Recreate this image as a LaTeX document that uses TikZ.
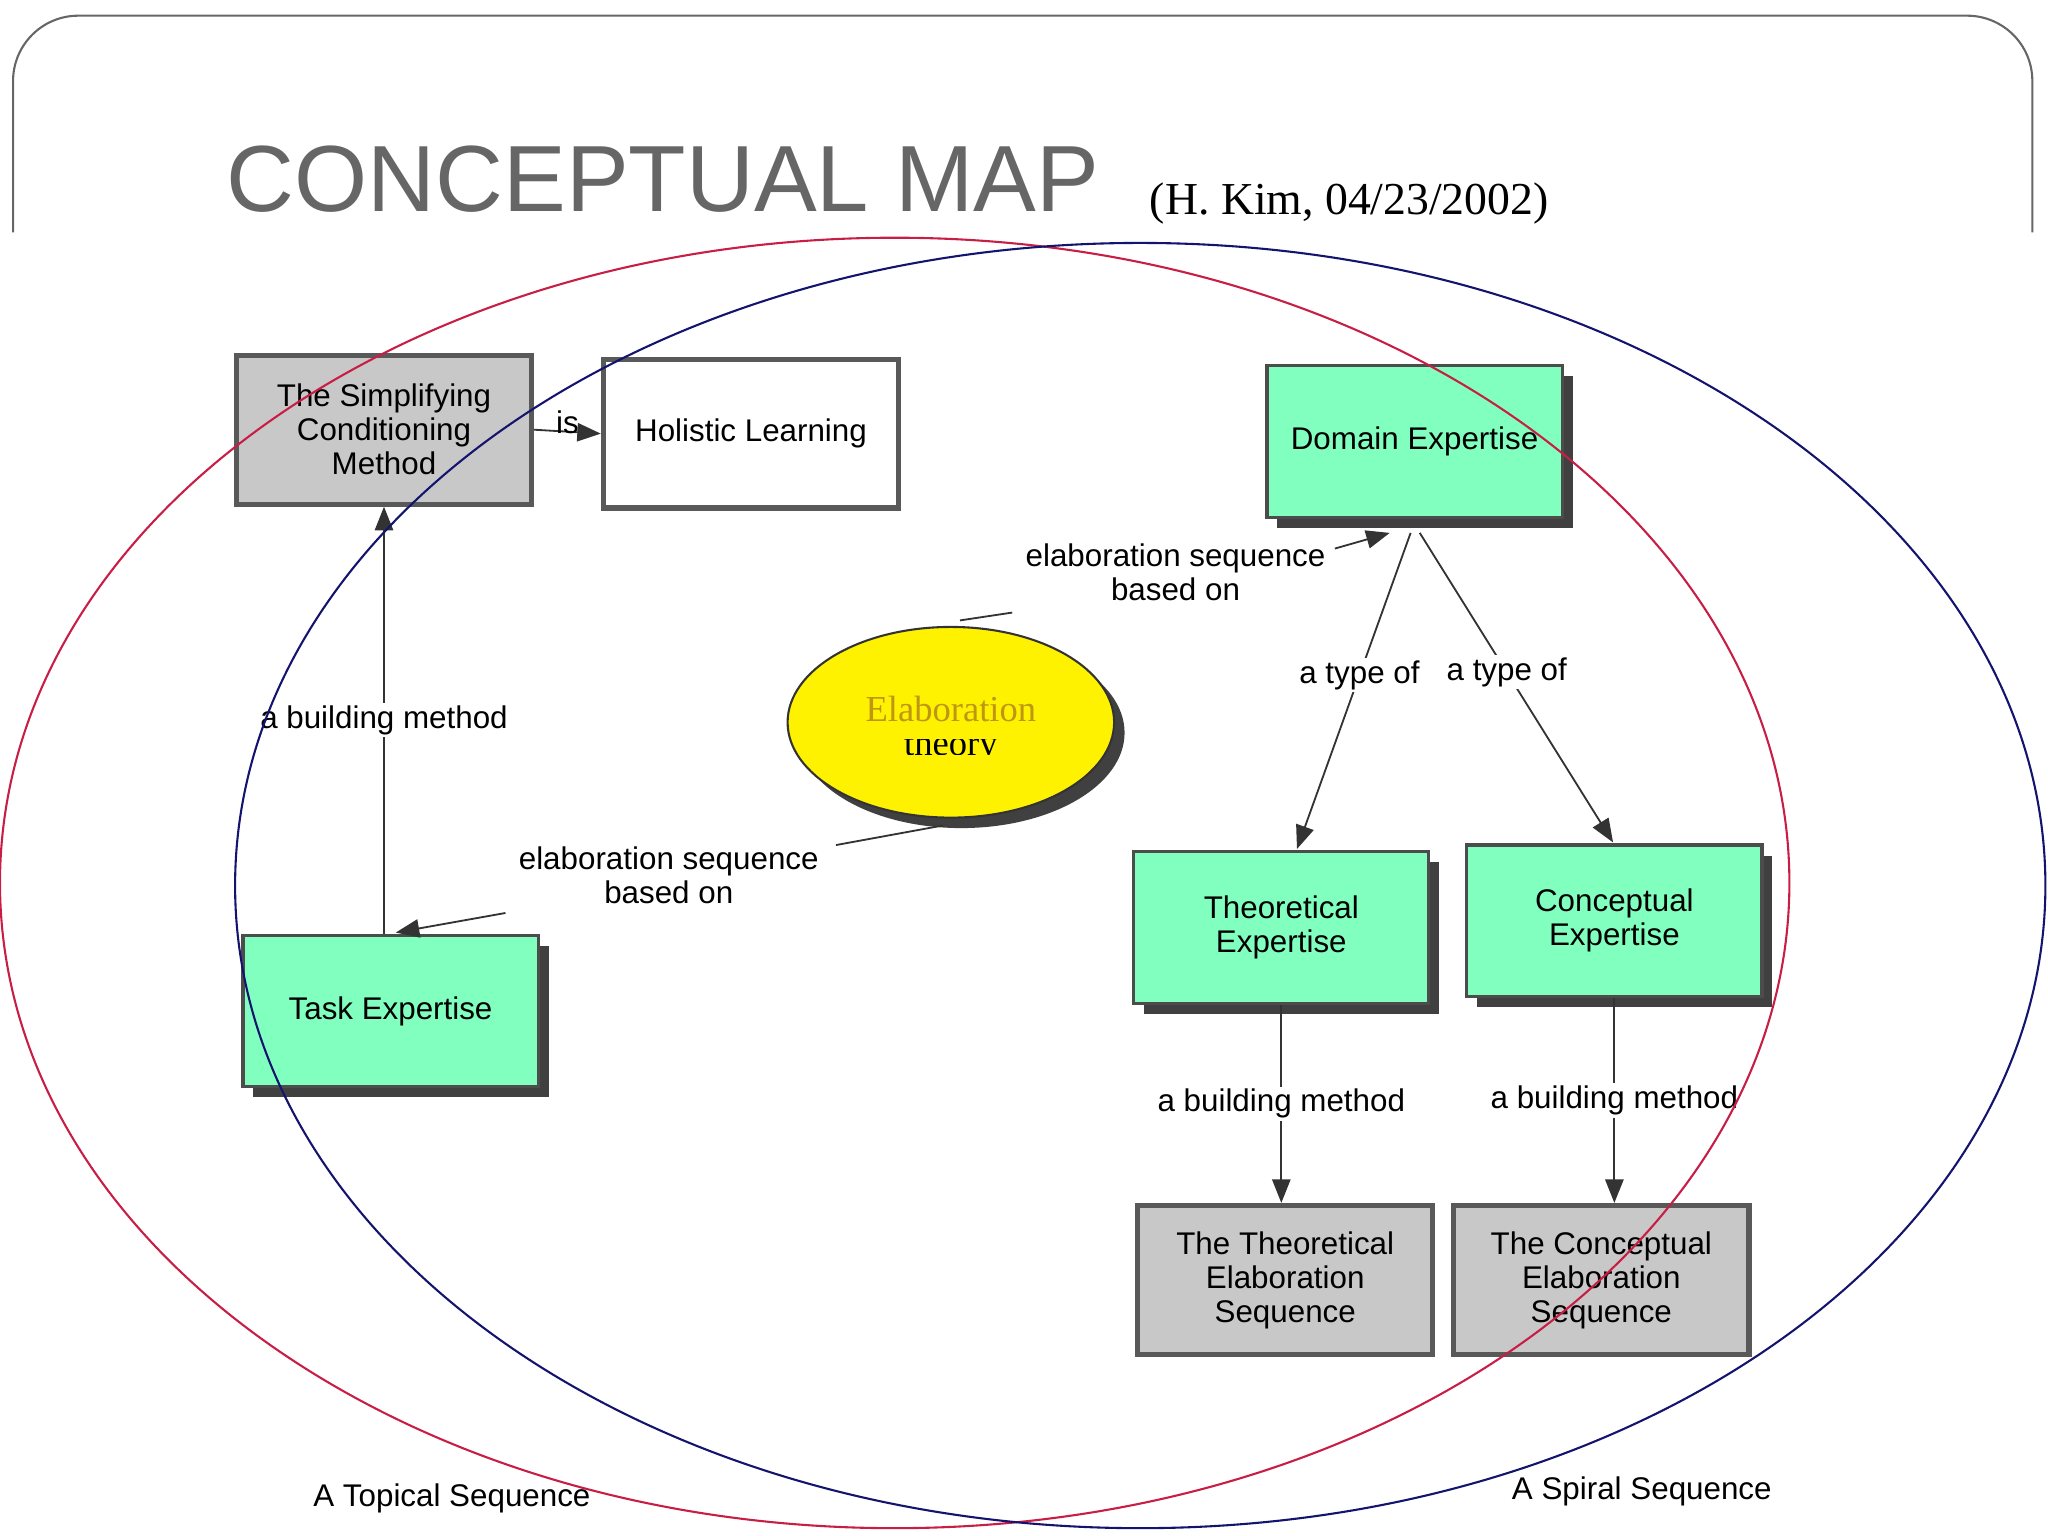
\documentclass[tikz,border=0pt]{standalone}
\usepackage{fontspec}
\setmainfont{Liberation Sans}
\newfontfamily\serifx{Liberation Serif}
\usetikzlibrary{arrows.meta,shadows,shapes.geometric}
\definecolor{boxgreen}{RGB}{128,255,191}
\definecolor{boxgray}{RGB}{200,200,200}
\definecolor{ringred}{RGB}{200,30,70}
\definecolor{ringblue}{RGB}{20,20,110}
\definecolor{golden}{RGB}{190,150,20}
\tikzset{
  x=0.5pt,y=-0.5pt,
  gbox/.style={draw=black!70,line width=1.2pt,fill=boxgreen,minimum width=113pt,minimum height=58pt,align=center,font=\fontsize{12}{13}\selectfont,drop shadow={shadow xshift=4pt,shadow yshift=-4pt,fill=black!75,opacity=1}},
  graybox/.style={draw=black!65,line width=2pt,fill=boxgray,minimum width=113pt,minimum height=57pt,align=center,font=\fontsize{12}{13}\selectfont},
  wbox/.style={draw=black!65,line width=2pt,fill=white,minimum width=113pt,minimum height=57pt,align=center,font=\fontsize{12}{13}\selectfont},
  lab/.style={fill=white,inner sep=1pt,align=center,font=\fontsize{12}{13}\selectfont},
  con/.style={draw=black!80,line width=0.7pt},
  arr/.style={con,-{Triangle[length=9pt,width=7pt]}},
}
\begin{document}
\begin{tikzpicture}
\useasboundingbox (0,0) rectangle (1568,1176);
% slide frame
\draw[black!60,line width=0.8pt,rounded corners=25pt] (10,178) -- (10,12) -- (1556,12) -- (1556,178);
\node[anchor=base west,inner sep=0,text=black!60,font=\fontsize{36}{36}\selectfont] (title) at (173,162) {CONCEPTUAL MAP};
\node[anchor=base west,inner sep=0,font=\serifx\fontsize{17.5}{17.5}\selectfont] (sub) at (880,164) {(H. Kim, 04/23/2002)};

% boxes
\node[graybox] (scm) at (294,329) {The Simplifying\\Conditioning\\Method};
\node[wbox] (hol) at (575,332) {Holistic Learning};
\node[gbox] (dom) at (1083,338) {Domain Expertise};
\node[gbox] (the) at (981,710) {Theoretical\\Expertise};
\node[gbox] (con) at (1236,705) {Conceptual\\Expertise};
\node[gbox] (task) at (299,774) {Task Expertise};
\node[graybox] (tes) at (984,980) {The Theoretical\\Elaboration\\Sequence};
\node[graybox] (ces) at (1226,980) {The Conceptual\\Elaboration\\Sequence};

% elaboration theory
\node[ellipse,draw=black!80,line width=0.8pt,fill=yellow,minimum width=125pt,minimum height=73pt,drop shadow={shadow xshift=4pt,shadow yshift=-4pt,fill=black!75,opacity=1}] (elab) at (728,553) {};
\begin{scope}
\clip (640,566) rectangle (822,578);
\node[font=\serifx\fontsize{14}{14}\selectfont] (theo) at (728,572) {theory};
\end{scope}
\fill[yellow] (640,515) rectangle (822,566);
\node[text=golden,font=\serifx\fontsize{14}{14}\selectfont] (elabt) at (728,543) {Elaboration};

% connectors
\draw[arr] (scm.east) -- node[lab,above=-2pt,fill=none] {is} (hol.west);
\draw[arr] (task.north -| scm) -- node[lab] {a building method} (scm.south);
\coordinate (e1) at (722,632);
\coordinate (e2) at (775,469);
\draw[con] (e1) -- (640,647);
\node[lab,fill=none] (lb1) at (512,670) {elaboration sequence\\based on};
\draw[arr] (387,699) -- (303,714);
\draw[con] (e2) -- (735,475);
\node[lab,fill=none] (lb2) at (900,438) {elaboration sequence\\based on};
\draw[arr] (1022,420) -- (1064,408);
\draw[arr] (1080,408) -- node[lab,pos=0.45] {a type of} (993,650);
\draw[arr] (1087,408) -- node[lab,pos=0.45] {a type of} (1235,645);
\draw[arr] (the.south) -- node[lab] {a building method} (tes.north -| the);
\draw[arr] (con.south) -- node[lab] {a building method} (ces.north -| con);

% rings
\draw[ringred,line width=0.8pt] (685,676) ellipse[x radius=685,y radius=494];
\draw[ringblue,line width=0.8pt] (873,678) ellipse[x radius=693,y radius=492];

\node[font=\fontsize{12}{13}\selectfont] (ts) at (346,1147) {A Topical Sequence};
\node[font=\fontsize{12}{13}\selectfont] (ss) at (1257,1142) {A Spiral Sequence};
\end{tikzpicture}
\end{document}
